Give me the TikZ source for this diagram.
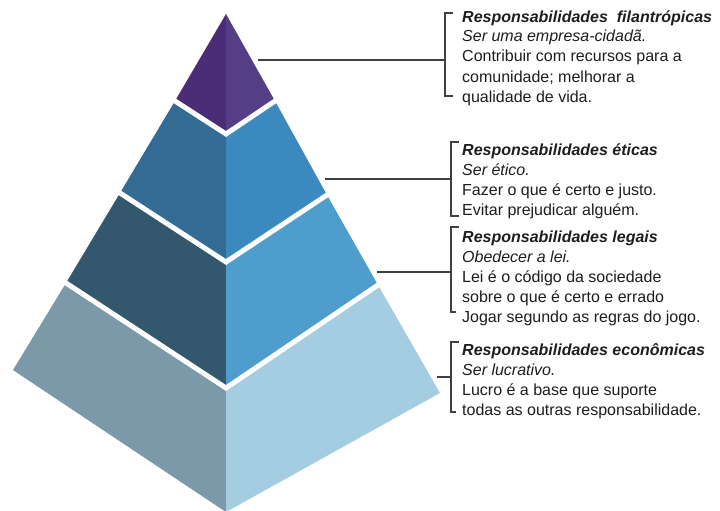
\documentclass[tikz,border=0pt]{standalone}
\usepackage{fontspec}
\setmainfont{Liberation Sans}
\usepackage{xcolor}
\usepackage{tikz}

\definecolor{filL}{HTML}{4A2C77}
\definecolor{filR}{HTML}{553E86}
\definecolor{etiL}{HTML}{336B95}
\definecolor{etiR}{HTML}{3C89BF}
\definecolor{legL}{HTML}{33576C}
\definecolor{legR}{HTML}{4E9DCC}
\definecolor{ecoL}{HTML}{7B99A8}
\definecolor{ecoR}{HTML}{A5CDE1}
\definecolor{linkgray}{HTML}{404040}
\definecolor{textgray}{HTML}{1E1E1E}

\begin{document}
\begin{tikzpicture}[x=1pt, y=-1pt,
  gap/.style={draw=white, line width=5pt, shorten <=-8pt, shorten >=-8pt},
  link/.style={draw=linkgray, line width=1.4pt},
  label/.style={anchor=base west, inner sep=0pt, align=left, text=textgray,
    font=\fontsize{16}{20}\selectfont}]
  \useasboundingbox[fill=white] (0,0) rectangle (720,511);

  \coordinate (apex) at (226,14);
  \coordinate (tip) at (226,512);
  \coordinate (lc) at (13,370);
  \coordinate (rc) at (440,393);
  \coordinate (b1l) at (175,101);
  \coordinate (b1c) at (226,134);
  \coordinate (b1r) at (275,101);
  \coordinate (b2l) at (120,193);
  \coordinate (b2c) at (226,262);
  \coordinate (b2r) at (327,195);
  \coordinate (b3l) at (66,283);
  \coordinate (b3c) at (226,388);
  \coordinate (b3r) at (378,285);

  \fill[filL] (apex) -- (b1l) -- (b1c) -- cycle;
  \fill[filR] (apex) -- (b1c) -- (b1r) -- cycle;
  \fill[etiL] (b1l) -- (b2l) -- (b2c) -- (b1c) -- cycle;
  \fill[etiR] (b1c) -- (b2c) -- (b2r) -- (b1r) -- cycle;
  \fill[legL] (b2l) -- (b3l) -- (b3c) -- (b2c) -- cycle;
  \fill[legR] (b2c) -- (b3c) -- (b3r) -- (b2r) -- cycle;
  \fill[ecoL] (b3l) -- (lc) -- (tip) -- (b3c) -- cycle;
  \fill[ecoR] (b3c) -- (tip) -- (rc) -- (b3r) -- cycle;

  \draw[gap] (b1l) -- (b1c) -- (b1r);
  \draw[gap] (b2l) -- (b2c) -- (b2r);
  \draw[gap] (b3l) -- (b3c) -- (b3r);

  \node[label] (fil) at (462,102) {\textbf{\textit{Responsabilidades\ \ filantrópicas}}\\
    \textit{Ser uma empresa-cidadã.}\\
    Contribuir com recursos para a\\
    comunidade; melhorar a\\
    qualidade de vida.};
  \node[label] (eti) at (462,215) {\textbf{\textit{Responsabilidades éticas}}\\
    \textit{Ser ético.}\\
    Fazer o que é certo e justo.\\
    Evitar prejudicar alguém.};
  \node[label] (leg) at (462,322) {\textbf{\textit{Responsabilidades legais}}\\
    \textit{Obedecer a lei.}\\
    Lei é o código da sociedade\\
    sobre o que é certo e errado\\
    Jogar segundo as regras do jogo.};
  \node[label] (eco) at (462,415) {\textbf{\textit{Responsabilidades econômicas}}\\
    \textit{Ser lucrativo.}\\
    Lucro é a base que suporte\\
    todas as outras responsabilidade.};

  \coordinate (p1) at (258,60);
  \coordinate (k1) at (445,60);
  \coordinate (p2) at (325,179);
  \coordinate (k2) at (451,179);
  \coordinate (p3) at (377,272);
  \coordinate (k3) at (451,272);
  \coordinate (p4) at (437,377);
  \coordinate (k4) at (451,377);

  \draw[link] (453,13) -- (445,13) -- (445,96) -- (453,96);
  \draw[link] (459,142) -- (451,142) -- (451,216) -- (459,216);
  \draw[link] (459,227) -- (451,227) -- (451,312) -- (456,312);
  \draw[link] (459,342) -- (451,342) -- (451,412) -- (456,412);

  \draw[link] (p1) -- (k1);
  \draw[link] (p2) -- (k2);
  \draw[link] (p3) -- (k3);
  \draw[link] (p4) -- (k4);
\end{tikzpicture}
\end{document}
